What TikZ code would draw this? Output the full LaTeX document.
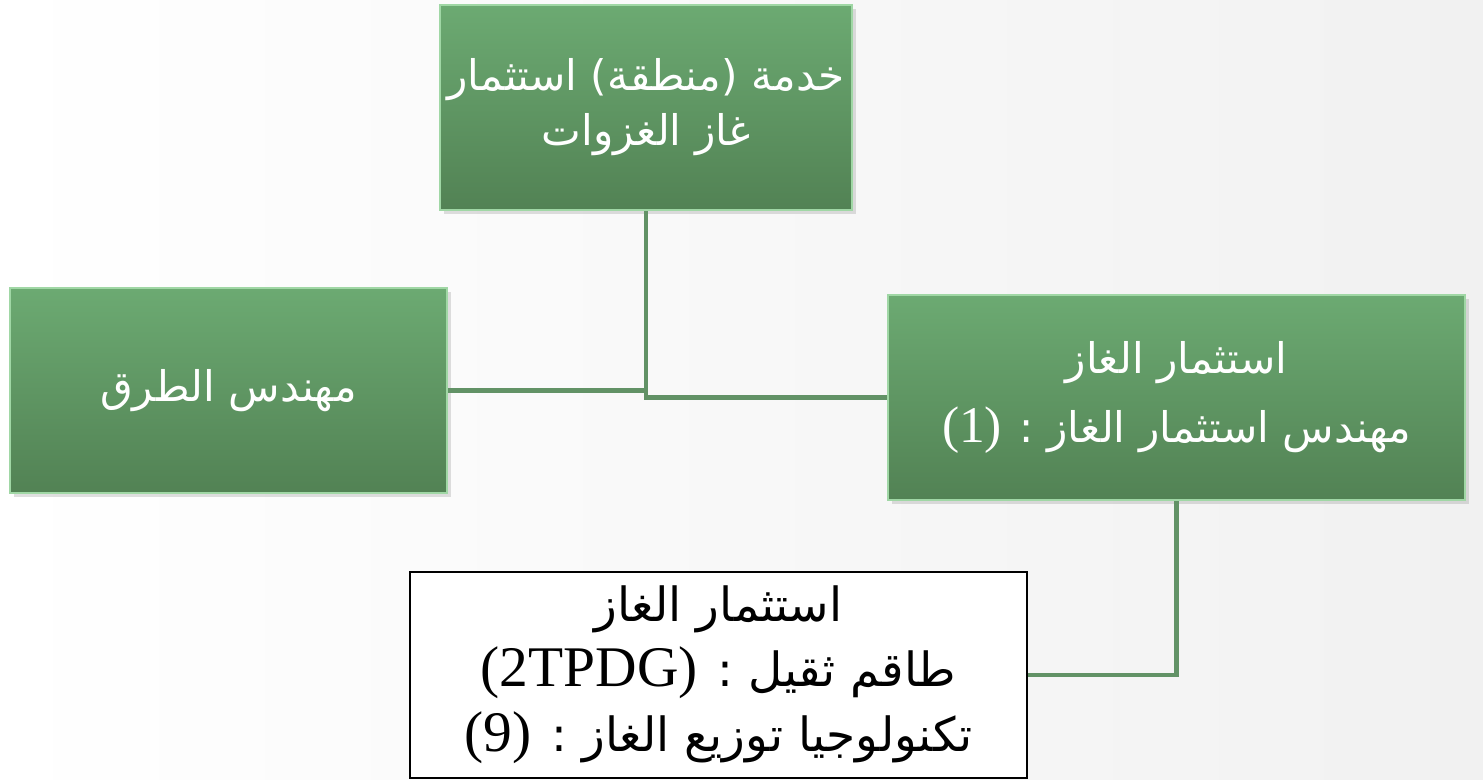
\documentclass[tikz,border=0pt]{standalone}
\usepackage{fontspec}
\usepackage{tikz}
\usetikzlibrary{shadows}
\TeXXeTstate=1
\newfontfamily\arabicfont[Script=Arabic]{DejaVu Sans}
\newfontfamily\latinfont[Scale=1.22]{Liberation Serif}

\definecolor{boxtop}{RGB}{108,170,114}
\definecolor{boxbottom}{RGB}{82,130,84}
\definecolor{boxedge}{RGB}{160,215,165}
\definecolor{linkgreen}{RGB}{98,146,102}
\definecolor{backgray}{RGB}{241,241,241}

\tikzset{
	greenbox/.style={draw=boxedge, line width=0.8pt, top color=boxtop, bottom color=boxbottom,
		text=white, align=center, inner sep=0pt,
		drop shadow={shadow xshift=1.2pt, shadow yshift=-1.2pt, opacity=0.25}},
	plainbox/.style={draw=black, line width=0.6pt, fill=white, text=black, align=center, inner sep=0pt},
	link/.style={draw=linkgreen, line width=1.4pt}
}

\begin{document}
\begin{tikzpicture}
			\fill[left color=white, right color=backgray] (0,0) rectangle (14.83,7.8);
			
			\node[greenbox, minimum width=4.12cm, minimum height=2.05cm,
				font=\arabicfont\fontsize{12}{15.6}\selectfont] (khidma) at (6.46,6.725)
				{\beginR خدمة (منطقة) استثمار\endR\\\beginR غاز الغزوات\endR};
			
			\node[greenbox, minimum width=4.37cm, minimum height=2.05cm,
				font=\arabicfont\fontsize{12}{15.6}\selectfont] (turuq) at (2.285,3.895)
				{\beginR مهندس الطرق\endR};
			
			\node[greenbox, minimum width=5.77cm, minimum height=2.05cm,
				font=\arabicfont\fontsize{12}{19.8}\selectfont] (istithmar) at (11.765,3.825)
				{\beginR استثمار الغاز\endR\\\beginR مهندس استثمار الغاز : \beginL{\latinfont (1)}\endL\endR};
			
			\node[plainbox, minimum width=6.17cm, minimum height=2.06cm,
				font=\arabicfont\fontsize{13.4}{18.5}\selectfont] (taqim) at (7.185,1.05)
				{\beginR استثمار الغاز\endR\\
				 \beginR طاقم ثقيل :  \beginL{\latinfont (2TPDG)}\endL\endR\\
				 \beginR تكنولوجيا توزيع  الغاز : \beginL{\latinfont (9)}\endL\endR};
			
			\draw[link] (khidma.south) |- (turuq.east);
			\draw[link] (khidma.south) |- (istithmar.west);
			\draw[link] (istithmar.south) |- (taqim.east);
			
\end{tikzpicture}
\end{document}
